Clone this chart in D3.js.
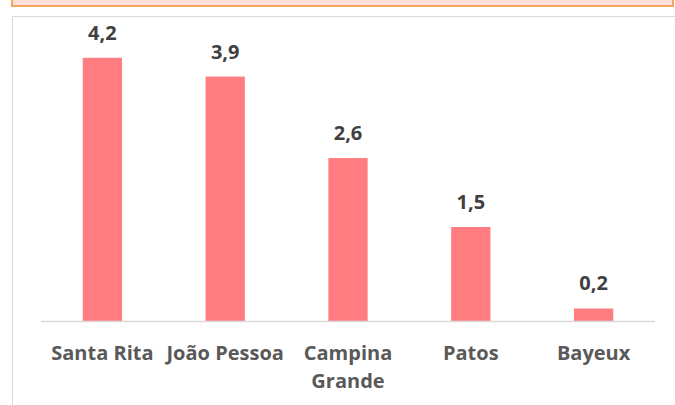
<!DOCTYPE html>
<html lang="pt">
<head>
<meta charset="UTF-8">
<script src="https://d3js.org/d3.v7.min.js"></script>
<style>
	body { margin: 0; background: #fff; }
	svg { display: block; font-family: "Open Sans", sans-serif; }
</style>
</head>
<body>
<div id="chart"></div>
<script>
// Data
const cities = [["Santa Rita"], ["João Pessoa"], ["Campina", "Grande"], ["Patos"], ["Bayeux"]];
const values = [4.2, 3.9, 2.6, 1.5, 0.2];

const width = 675, height = 405;
const svg = d3.select("#chart").append("svg")
	.attr("width", width)
	.attr("height", height);

// Decorative frame above the chart (orange box cut off at the top)
svg.append("rect")
	.attr("x", 12).attr("y", -10)
	.attr("width", 661).attr("height", 16)
	.attr("fill", "#fbe0da")
	.attr("stroke", "#f2a65e")
	.attr("stroke-width", 2);

// Chart area border
svg.append("rect")
	.attr("x", 12.5).attr("y", 16.5)
	.attr("width", 670).attr("height", 400)
	.attr("fill", "#fff")
	.attr("stroke", "#d9d9d9");

const x = d3.scaleBand()
	.domain(d3.range(values.length))
	.range([41, 655])
	.paddingInner(0.68)
	.paddingOuter(0.34);

const y = d3.scaleLinear()
	.domain([0, 4.5])
	.range([321, 39]);

// Bars
svg.append("g")
	.selectAll("rect")
	.data(values)
	.join("rect")
	.attr("x", (d, i) => x(i))
	.attr("y", d => y(d))
	.attr("width", x.bandwidth())
	.attr("height", d => y(0) - y(d))
	.attr("fill", "#ff7c80");

// Baseline
svg.append("line")
	.attr("x1", 41).attr("x2", 655)
	.attr("y1", y(0) + 0.5).attr("y2", y(0) + 0.5)
	.attr("stroke", "#d9d9d9")
	.attr("stroke-width", 1.5);

// Value labels
svg.append("g")
	.selectAll("text")
	.data(values)
	.join("text")
	.attr("x", (d, i) => x(i) + x.bandwidth() / 2)
	.attr("y", d => y(d) - 18)
	.attr("text-anchor", "middle")
	.attr("font-size", 20)
	.attr("font-weight", "bold")
	.attr("fill", "#404040")
	.text(d => d3.format(".1f")(d).replace(".", ","));

// Category labels
const labels = svg.append("g")
	.selectAll("text")
	.data(cities)
	.join("text")
	.attr("x", (d, i) => x(i) + x.bandwidth() / 2)
	.attr("y", 360)
	.attr("text-anchor", "middle")
	.attr("font-size", 20)
	.attr("font-weight", "bold")
	.attr("fill", "#595959");

labels.selectAll("tspan")
	.data(d => d)
	.join("tspan")
	.attr("x", function() { return d3.select(this.parentNode).attr("x"); })
	.attr("dy", (d, i) => i === 0 ? 0 : 28)
	.text(d => d);
</script>
</body>
</html>
